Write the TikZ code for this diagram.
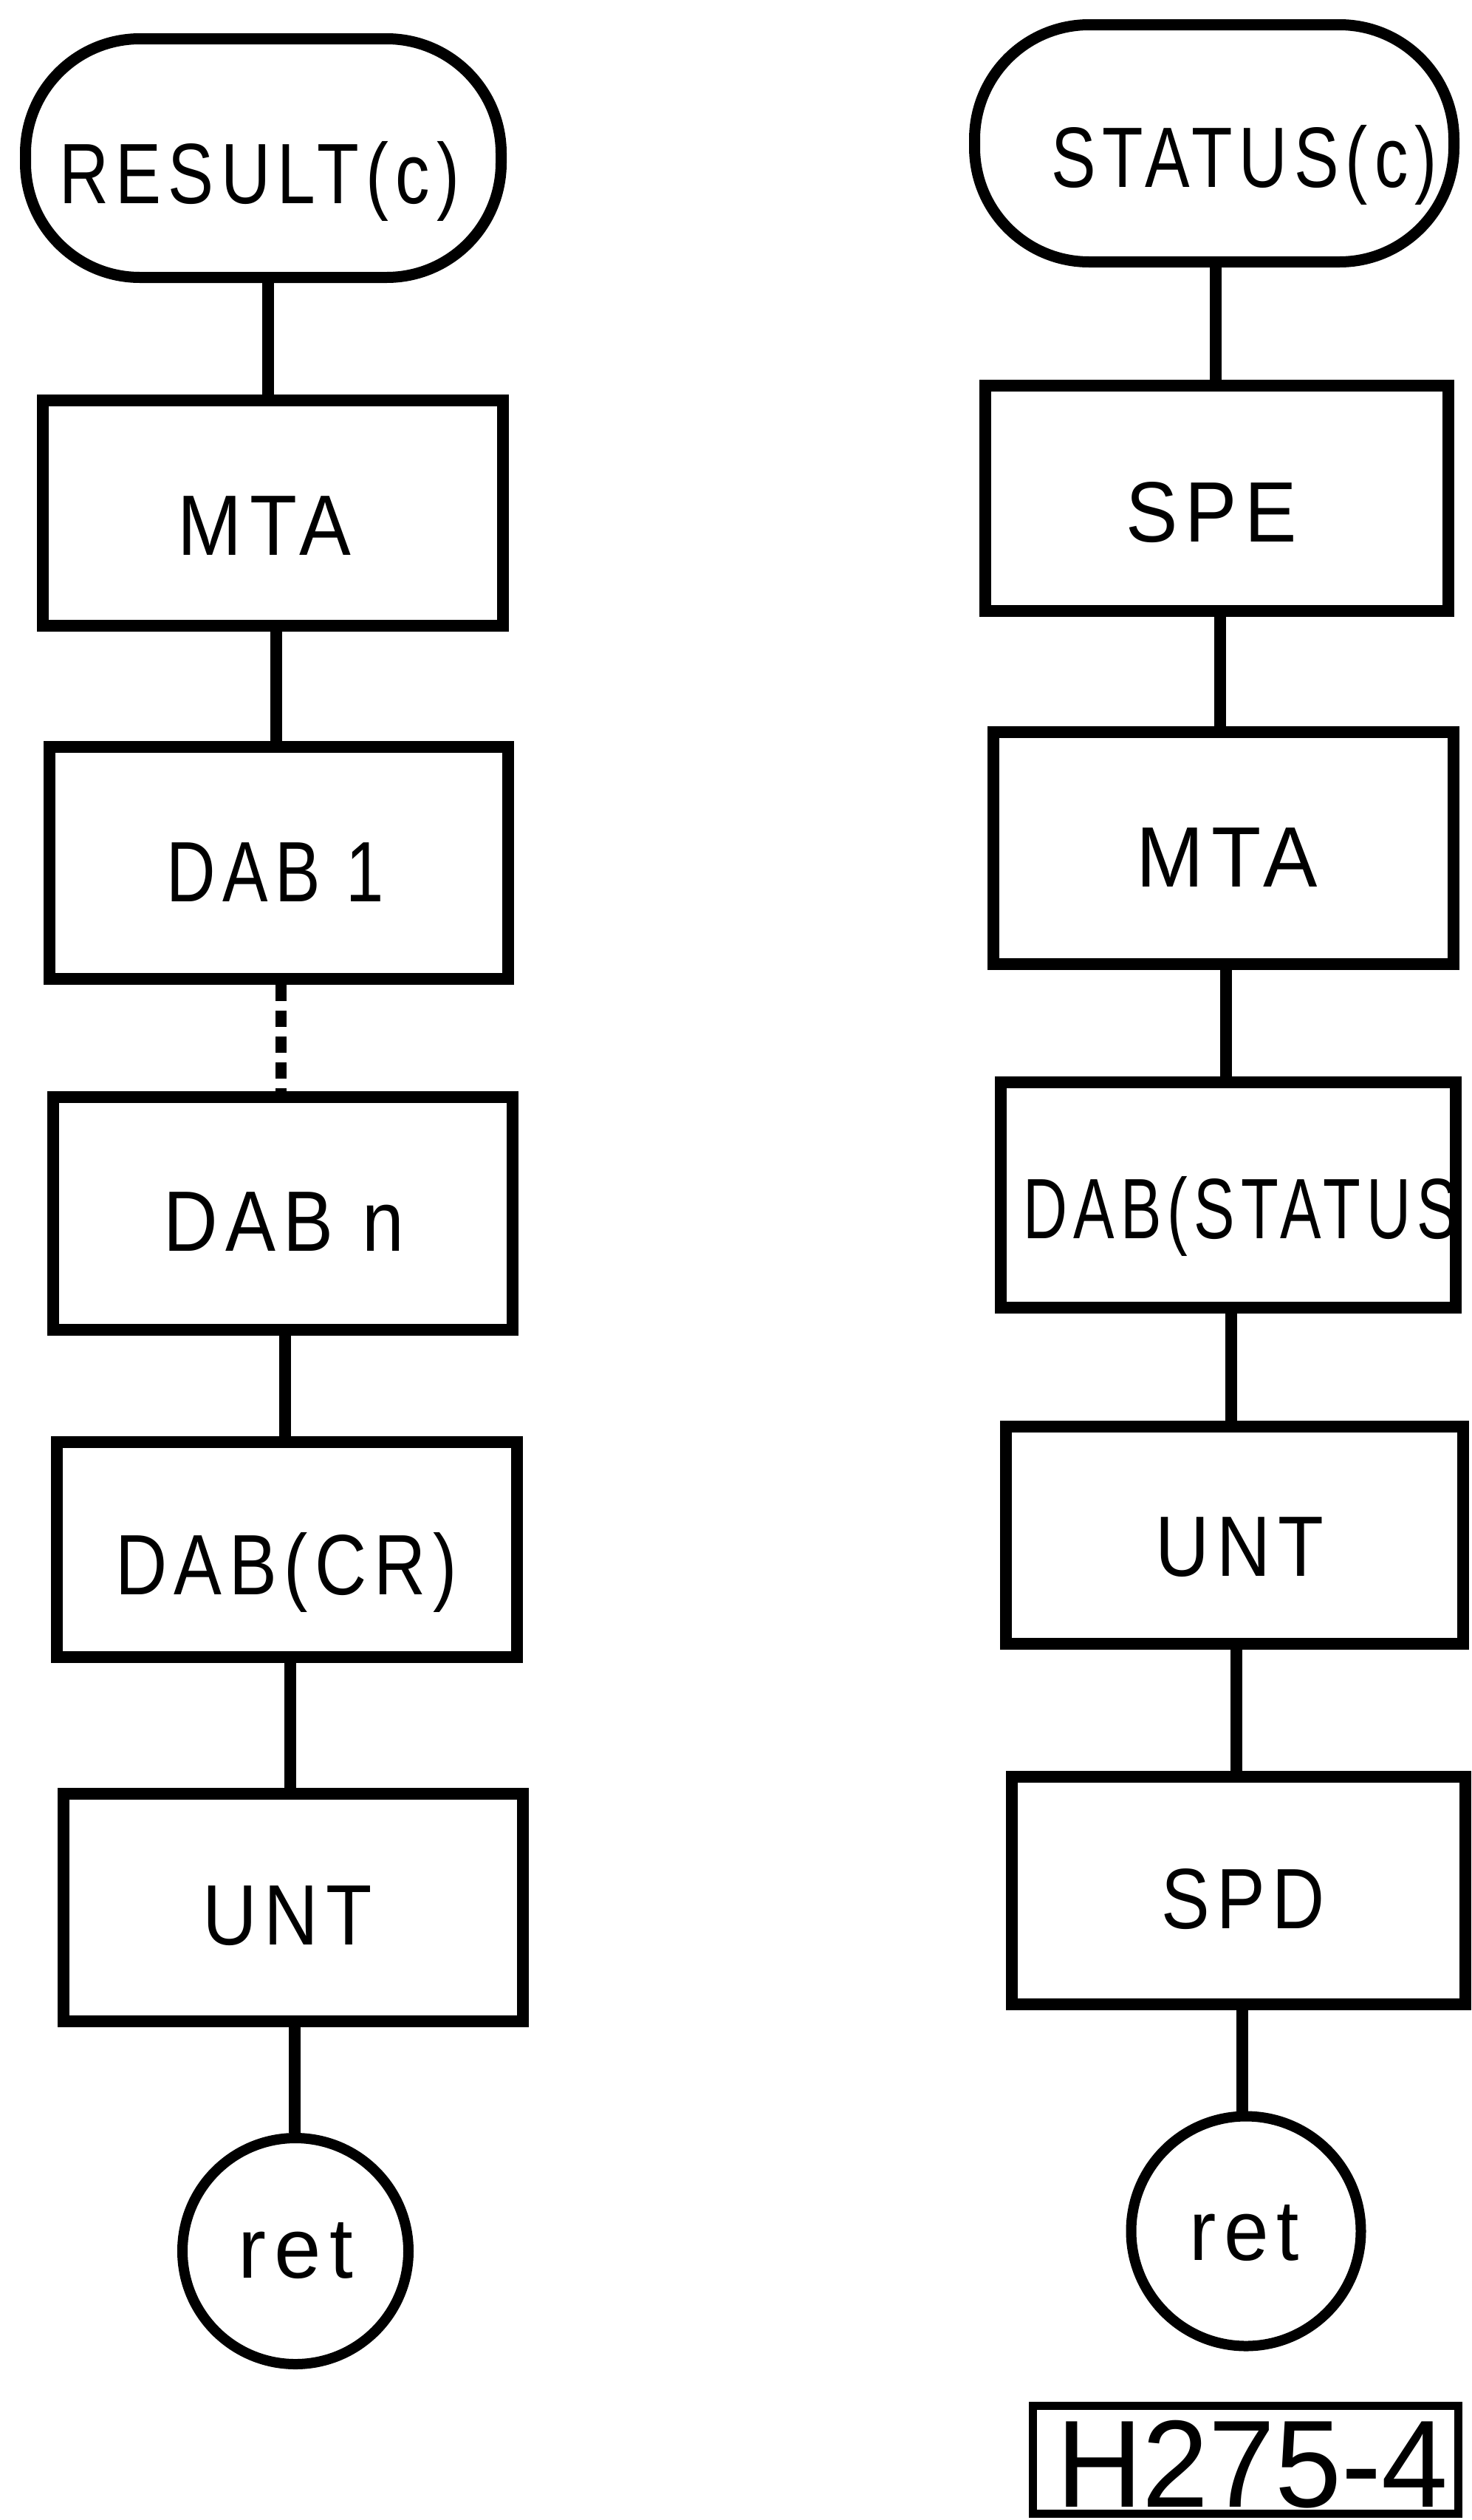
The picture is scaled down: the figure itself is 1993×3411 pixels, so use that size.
\documentclass[tikz,border=0pt]{standalone}
\usepackage{fontspec}
\setmainfont{Liberation Sans}[LetterSpace=10]
\newfontfamily\tagfont{Liberation Sans}
\usetikzlibrary{calc}

% label text: shift right by #1, down by #2, set to width #3
\newcommand{\lbl}[4]{\kern\dimexpr#1pt\relax\raisebox{-#2pt}[\height][\depth]{\resizebox{#3pt}{\height}{#4}}\kern-\dimexpr#1pt\relax}
% vertical connector between two stacked nodes
\newcommand{\joinv}[3][link]{%
  \path ($(#2.south)!.5!(#3.north)$) coordinate (m-#2);
  \draw[#1] (#2.south -| m-#2) -- (#3.north -| m-#2);}

\tikzset{
  box/.style={draw, rectangle, line width=16pt, inner sep=0pt},
  term/.style={draw, rectangle, rounded corners=155pt, line width=15pt, inner sep=0pt},
  stop/.style={draw, circle, line width=14pt, inner sep=0pt},
  link/.style={line width=16pt},
  dots/.style={line width=15pt, dash pattern=on 22pt off 13pt},
  tagbox/.style={draw, rectangle, line width=11pt, inner sep=0pt}
}

\begin{document}
\begin{tikzpicture}[x=1pt, y=-1pt, font=\fontsize{116pt}{120pt}\selectfont]
\useasboundingbox (0,0) rectangle (1993,3411);

% left chain
\node[term, minimum width=644pt, minimum height=323pt] (res)   at (356.5,214)   {\lbl{-5}{31}{542}{RESULT(c)}};
\node[box,  minimum width=623pt, minimum height=305pt] (mta1)  at (369.5,694.5) {\lbl{-11.5}{17.5}{234}{MTA}};
\node[box,  minimum width=621pt, minimum height=314pt] (dab1)  at (377.5,1168)  {\lbl{-4.5}{13}{294}{DAB 1}};
\node[box,  minimum width=622pt, minimum height=315pt] (dabn)  at (383,1642.5)  {\lbl{1.5}{11}{325}{DAB n}};
\node[box,  minimum width=623pt, minimum height=291pt] (dabcr) at (388.5,2097.5){\lbl{-1}{31}{463}{DAB(CR)}};
\node[box,  minimum width=622pt, minimum height=308pt] (unt1)  at (397,2582)    {\lbl{-8}{11.5}{230}{UNT}};
\node[stop, minimum size=306pt] (ret1) at (400,3047) {\lbl{0}{0}{156}{ret}};

\joinv{res}{mta1}
\joinv{mta1}{dab1}
\joinv[dots]{dab1}{dabn}
\joinv{dabn}{dabcr}
\joinv{dabcr}{unt1}
\joinv{unt1}{ret1}

% right chain
\node[term, minimum width=649pt, minimum height=321pt] (stat)  at (1644,194)     {\lbl{40.5}{29.5}{523}{STATUS(c)}};
\node[box,  minimum width=627pt, minimum height=305pt] (spe)   at (1647.5,674.5) {\lbl{-7.5}{19}{232}{SPE}};
\node[box,  minimum width=623pt, minimum height=314pt] (mta2)  at (1656.5,1148)  {\lbl{4.5}{13}{246}{MTA}};
\node[box,  minimum width=616pt, minimum height=305pt] (dabst) at (1663,1617.5)  {\lbl{16.5}{29}{589}{DAB(STATUS}};
\node[box,  minimum width=619pt, minimum height=294pt] (unt2)  at (1671.5,2078)  {\lbl{6.5}{16}{228}{UNT}};
\node[box,  minimum width=614pt, minimum height=308pt] (spd)   at (1677,2559)    {\lbl{6}{11.5}{222}{SPD}};
\node[stop, minimum size=311pt] (ret2) at (1687,3020) {\lbl{-2.5}{2.5}{149}{ret}};

\joinv{stat}{spe}
\joinv{spe}{mta2}
\joinv{mta2}{dabst}
\joinv{dabst}{unt2}
\joinv{unt2}{spd}
\joinv{spd}{ret2}

% drawing number
\node[tagbox, minimum width=576pt, minimum height=146pt,
      font=\tagfont\fontsize{168pt}{172pt}\selectfont] (tag) at (1686,3329) {\lbl{9.5}{7}{531}{H275-4}};
\end{tikzpicture}
\end{document}
